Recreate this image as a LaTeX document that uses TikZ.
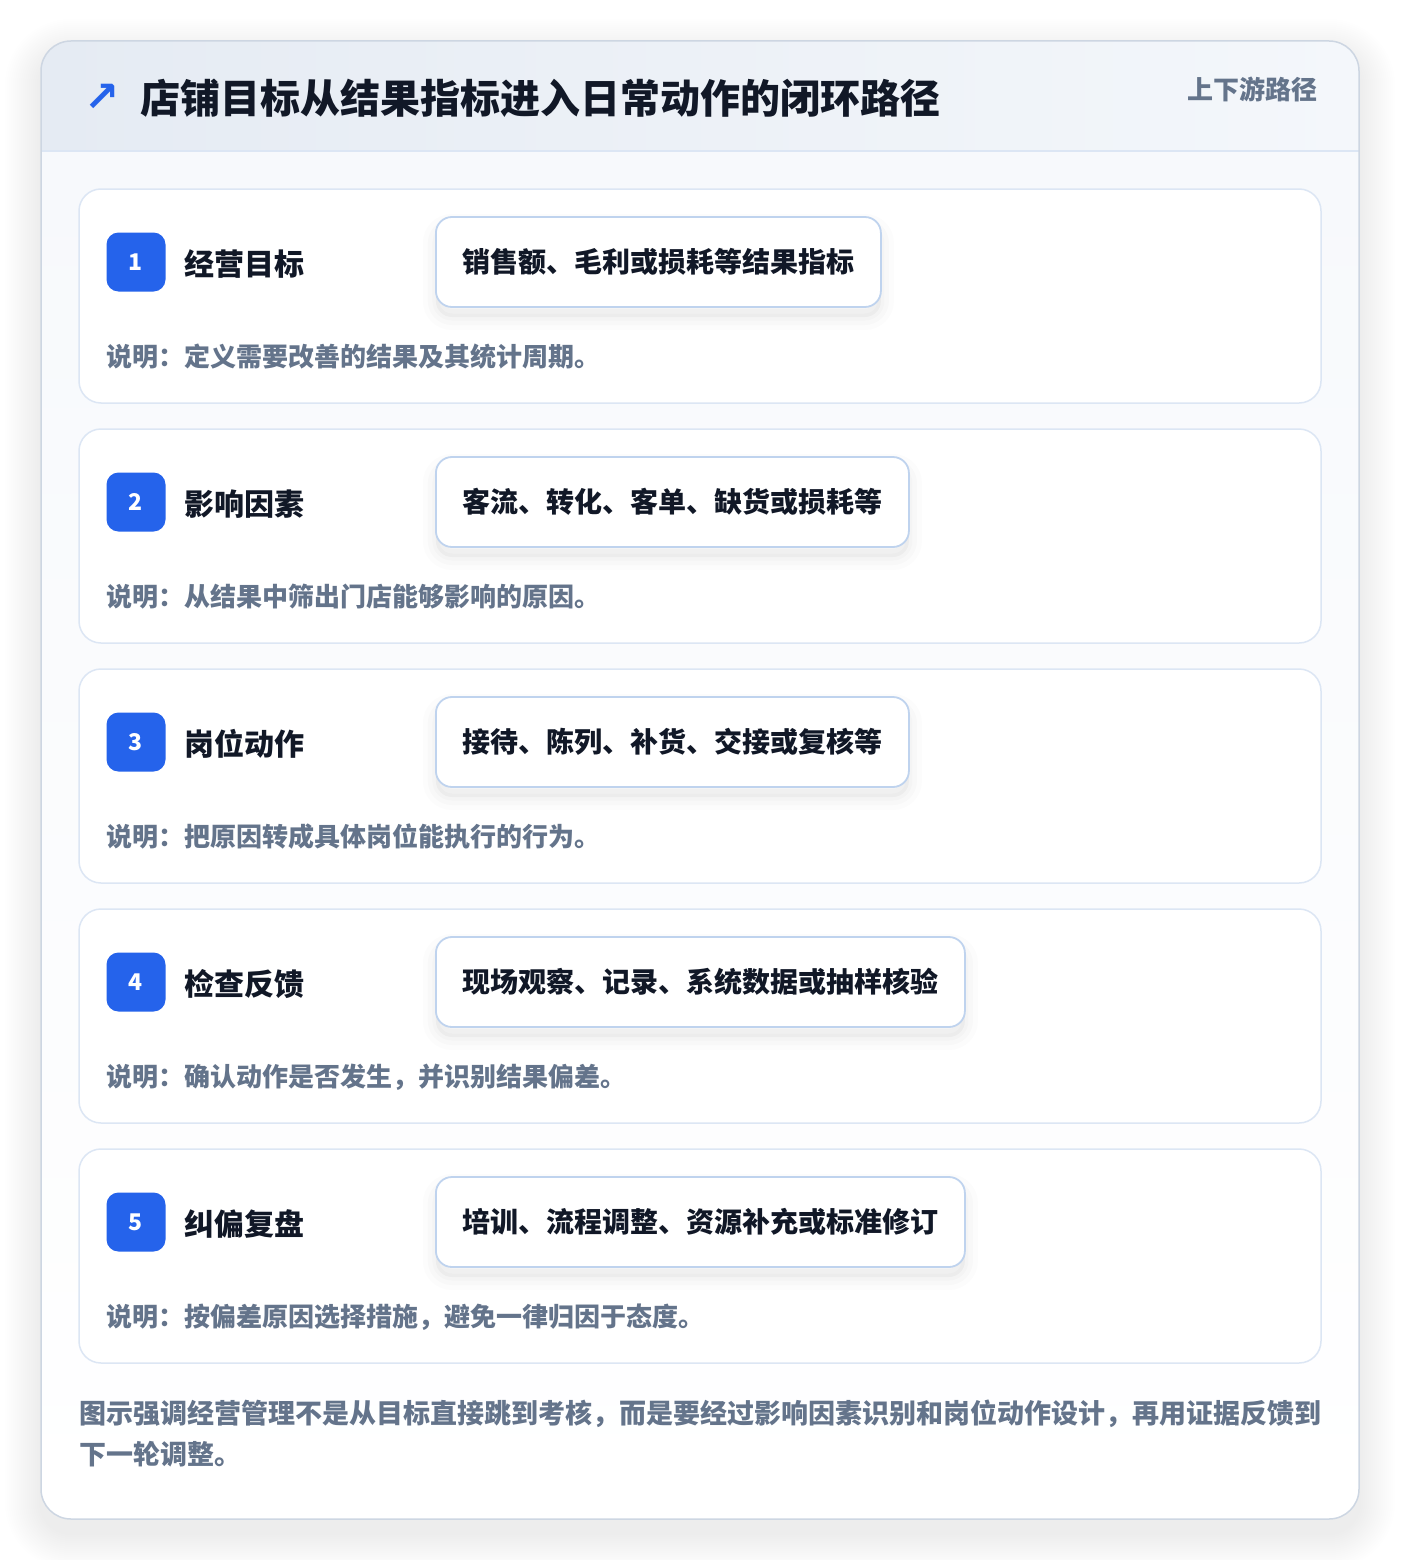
\documentclass[tikz,border=0pt]{standalone}
\usepackage{fontspec}
\setmainfont{Noto Sans CJK SC}
\newfontfamily\symfont{DejaVu Sans}
\definecolor{brand}{HTML}{2563EB}
\definecolor{ink}{HTML}{111827}
\definecolor{muted}{HTML}{64748B}
\definecolor{cardline}{HTML}{DCE6F4}
\definecolor{pillline}{HTML}{BFD3EE}
\definecolor{frameline}{HTML}{CDD6E2}
\definecolor{headL}{HTML}{E5EBF3}
\definecolor{headR}{HTML}{F4F7FB}
\definecolor{bodyT}{HTML}{F7F9FC}
\newcommand{\fs}[1]{\fontsize{#1}{#1}\selectfont}

\begin{document}
\begin{tikzpicture}[x=1pt,y=-1pt,
    card/.style={draw=cardline,line width=1.5pt,fill=white,rounded corners=22pt,
      minimum width=1242pt,minimum height=214pt},
    badge/.style={fill=brand,text=white,rounded corners=12pt,minimum size=59pt,
      inner sep=0pt,font=\fs{23}\bfseries},
    stage/.style={anchor=west,inner sep=0pt,text=ink,font=\fs{30}\bfseries},
    pillshadow/.style={
      preaction={draw=black,draw opacity=0.012,line width=26pt,transform canvas={yshift=-10pt}},
      preaction={draw=black,draw opacity=0.014,line width=16pt,transform canvas={yshift=-10pt}},
      preaction={fill=black,fill opacity=0.03,draw=black,draw opacity=0.016,line width=7pt,transform canvas={yshift=-10pt}}},
    pill/.style={anchor=west,draw=pillline,line width=1.8pt,fill=white,
      rounded corners=16pt,minimum height=90pt,inner xsep=26.5pt,text=ink,
      font=\fs{28}\bfseries,pillshadow},
    note/.style={anchor=west,inner sep=0pt,text=muted,font=\fs{26}\bfseries}]
  \useasboundingbox (0,0) rectangle (1400,1560);
  \fill[white] (0,0) rectangle (1400,1560);

  % outer frame
  \foreach \k in {2,4,...,36}{
    \pgfmathsetmacro\rr{30+\k}
    \fill[black,opacity=0.005,rounded corners=\rr pt] (41-\k,55-\k) rectangle (1359+\k,1533+\k);
  }
  \begin{scope}
    \clip[rounded corners=30pt] (41,41) rectangle (1359,1519);
    \shade[left color=headL,right color=headR] (41,41) rectangle (1359,151);
    \shade[top color=bodyT,bottom color=white] (41,151) rectangle (1359,1519);
  \end{scope}
  \draw[cardline,line width=1.5pt] (41,151) -- (1359,151);
  \draw[frameline,line width=1.5pt,rounded corners=30pt] (41,41) rectangle (1359,1519);

  % header
  \node[text=brand,inner sep=0pt,font=\symfont\bfseries\fs{42}] (icon) at (102,98) {↗};
  \node[anchor=west,inner sep=0pt,text=ink,font=\fs{40}\bfseries] (title) at (140,98)
    {店铺目标从结果指标进入日常动作的闭环路径};
  \node[anchor=east,inner sep=0pt,text=muted,font=\fs{26}\bfseries] (tag) at (1318,89) {上下游路径};

  % stages
  \foreach \n/\stagetext/\pilltext/\notetext [count=\i from 0] in {
      1/经营目标/销售额、毛利或损耗等结果指标/说明：定义需要改善的结果及其统计周期。,
      2/影响因素/客流、转化、客单、缺货或损耗等/说明：从结果中筛出门店能够影响的原因。,
      3/岗位动作/接待、陈列、补货、交接或复核等/说明：把原因转成具体岗位能执行的行为。,
      4/检查反馈/现场观察、记录、系统数据或抽样核验/说明：确认动作是否发生，并识别结果偏差。,
      5/纠偏复盘/培训、流程调整、资源补充或标准修订/说明：按偏差原因选择措施，避免一律归因于态度。}{
    \pgfmathsetmacro\cy{189+240*\i}
    \node[card] (card\n) at (700,\cy+107) {};
    \node[badge] (badge\n) at (136,\cy+73) {\n};
    \node[stage] (stage\n) at (184,\cy+75) {\stagetext};
    \node[pill] (pill\n) at (435,\cy+73) {\pilltext};
    \node[note] (note\n) at (106,\cy+168) {\notetext};
  }

  % summary
  \node[anchor=north west,inner sep=0pt,align=left,text=muted,font=\fontsize{27}{41}\selectfont\bfseries]
    (summary) at (79,1400)
    {图示强调经营管理不是从目标直接跳到考核，而是要经过影响因素识别和岗位动作设计，再用证据反馈到\\下一轮调整。};
\end{tikzpicture}
\end{document}
